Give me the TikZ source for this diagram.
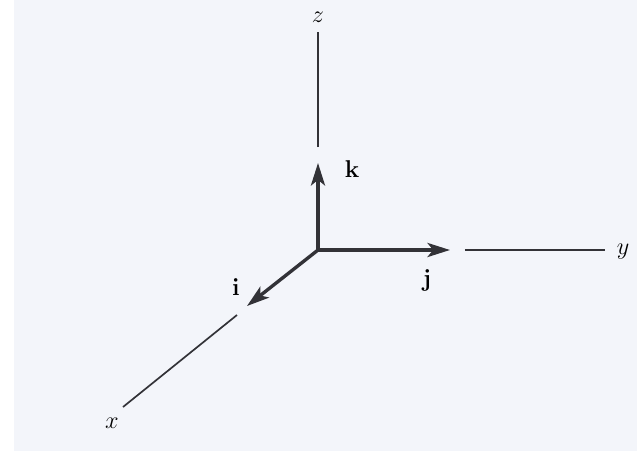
\documentclass[tikz,border=0pt]{standalone}
\usetikzlibrary{arrows.meta}
\begin{document}
\begin{tikzpicture}[>={Stealth[length=16pt,width=10pt,inset=4pt]}, font=\fontsize{16}{19}\selectfont]
			\definecolor{paper}{RGB}{243, 245, 250}
			\definecolor{ink}{RGB}{50, 50, 55}
			\tikzset{
				axis/.style={ink, line width=1.2pt},
				unitvec/.style={->, ink, line width=2.4pt},
			}

			% 背景
			\fill[white] (-7.95,-5.025) rectangle (7.975,6.25);
			\fill[paper] (-7.6,-5.025) rectangle (7.975,6.25);
			\useasboundingbox (-7.95,-5.025) rectangle (7.975,6.25);

			% 原点与端点
			\coordinate (O) at (0,0);
			\coordinate (zs) at (0,2.575);
			\coordinate (ze) at (0,5.45);
			\coordinate (ys) at (3.675,0);
			\coordinate (ye) at (7.175,0);
			\coordinate (xs) at (-2.025,-1.625);
			\coordinate (xe) at (-4.875,-3.925);
			\coordinate (kt) at (0,2.175);
			\coordinate (jt) at (3.3,0);
			\coordinate (it) at (-1.775,-1.4);

			% 坐标轴
			\draw[axis] (zs) -- (ze);
			\draw[axis] (ys) -- (ye);
			\draw[axis] (xs) -- (xe);
			\node (zlab) at (0,5.825) {\(z\)};
			\node (ylab) at (7.625,-0.05) {\(y\)};
			\node (xlab) at (-5.15,-4.325) {\(x\)};

			% 单位向量
			\draw[unitvec] (O) -- (kt);
			\draw[unitvec] (O) -- (jt);
			\draw[unitvec] (O) -- (it);
			\node (klab) at (0.85,2.025) {\(\mathbf{k}\)};
			\node (jlab) at (2.725,-0.75) {\(\mathbf{j}\)};
			\node (ilab) at (-2.05,-0.925) {\(\mathbf{i}\)};
		\end{tikzpicture}
\end{document}
